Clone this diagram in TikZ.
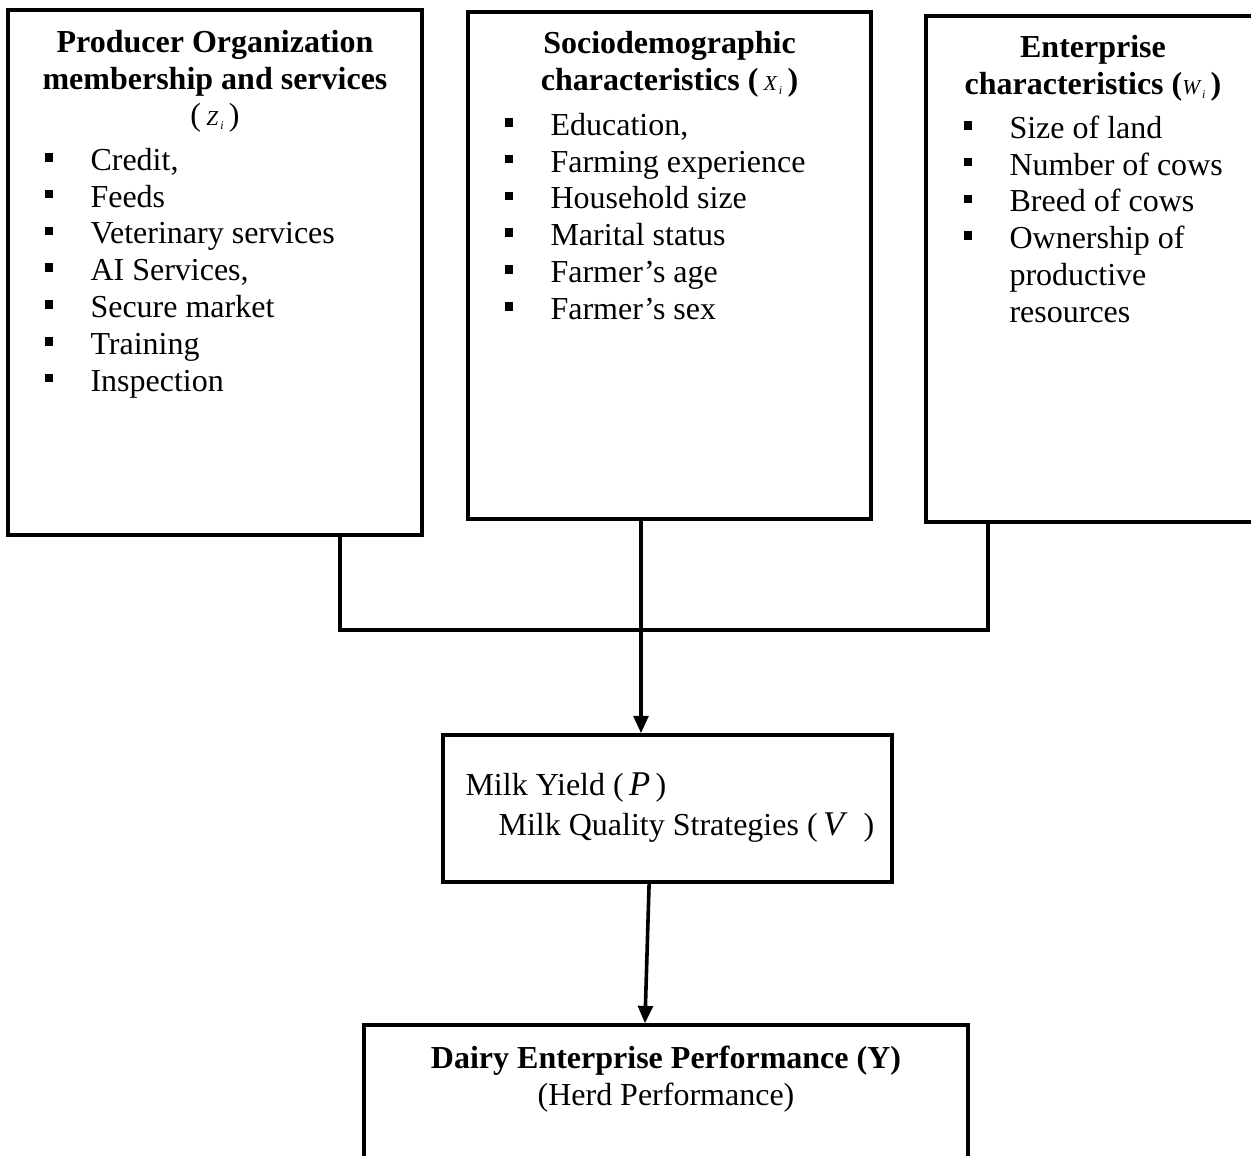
\documentclass[tikz,border=0pt]{standalone}
\usepackage{fontspec}
\setmainfont{Liberation Serif}
\usetikzlibrary{arrows.meta, positioning}

% bullet square and hanging indent for the lists
\newcommand{\sqb}{\makebox[17.25pt][l]{\rule[3.3pt]{3.2pt}{3.2pt}}}
\newcommand{\sqind}{\hspace*{17.25pt}}
% small italic variable with index
\newcommand{\vsym}[2]{{\mdseries\itshape\fontsize{8}{9}\selectfont #1\raisebox{-1.5pt}{\fontsize{4.5}{5}\selectfont\,#2}}}

\tikzset{
  box/.style={draw, line width=1.35pt, inner sep=0pt},
  head/.style={font=\bfseries\fontsize{12}{13.8}\selectfont, align=center, anchor=north, inner sep=0pt},
  items/.style={font=\fontsize{12}{13.8}\selectfont, align=left, anchor=north west, inner sep=0pt},
  link/.style={line width=1.35pt},
  arr/.style={line width=1.35pt, -{Triangle[width=5.5pt,length=6.5pt]}}
}

\begin{document}
\begin{tikzpicture}[x=0.375pt, y=-0.375pt]
\clip (0,0) rectangle (1251,1155);

% Boxes
\node[box, minimum width=155.25pt, minimum height=196.9pt] (po) at (215,272.5) {};
\node[box, minimum width=151.1pt, minimum height=190.1pt] (sd) at (669.5,265.5) {};
\node[box, minimum width=129pt, minimum height=189.75pt] (ec) at (1098,269) {};
\node[box, minimum width=168.4pt, minimum height=55.1pt] (my) at (667.5,808.5) {};
\node[box, minimum width=226.5pt, minimum height=65.6pt] (dp) at (666,1112.5) {};

% Producer organization
\node[head] (po-t) at (215,26) {\strut Producer Organization\\membership and services\\{\mdseries(\,\vsym{Z}{i}\,)}};
\node[items] (po-l) at (44,144) {\strut\sqb Credit,\\\sqb Feeds\\\sqb Veterinary services\\\sqb AI Services,\\\sqb Secure market\\\sqb Training\\\sqb Inspection};

% Sociodemographic
\node[head] (sd-t) at (669.5,27) {\strut Sociodemographic\\characteristics (\,\vsym{X}{i}\,)};
\node[items] (sd-l) at (504,109) {\strut\sqb Education,\\\sqb Farming experience\\\sqb Household size\\\sqb Marital status\\\sqb Farmer’s age\\\sqb Farmer’s sex};

% Enterprise
\node[head] (ec-t) at (1093,31) {\strut Enterprise\\characteristics (\vsym{W}{i}\,)};
\node[items] (ec-l) at (963,112) {\strut\sqb Size of land\\\sqb Number of cows\\\sqb Breed of cows\\\sqb Ownership of\\\sqind productive\\\sqind resources};

% Milk yield and quality
\node[items, font=\fontsize{12}{15}\selectfont] (my-t) at (465,767) {\strut Milk Yield (\,\textit{\fontsize{13}{15}\selectfont P}\,)\\\hspace*{12.4pt}Milk Quality Strategies (\,\textit{\fontsize{13}{15}\selectfont V}\enspace)};

% Performance
\node[head] (dp-t) at (666,1042) {\strut Dairy Enterprise Performance (Y)\\{\mdseries (Herd Performance)}};

% Connectors
\coordinate (jl) at (340,630);
\coordinate (jr) at (988,630);
\coordinate (dx) at (641,0);
\draw[link] (po.south -| jl) -- (jl) -- (jr) -- (ec.south -| jr);
\draw[arr] (sd.south -| dx) -- (my.north -| dx);
\draw[arr] ([xshift=-6.9pt]my.south) -- ([xshift=-7.9pt]dp.north);
\end{tikzpicture}
\end{document}
